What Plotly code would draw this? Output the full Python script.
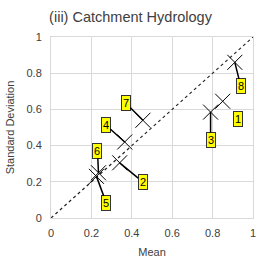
import plotly.graph_objects as go

labels = ["1", "2", "3", "4", "5", "6", "7", "8"]
mean = [0.85, 0.34, 0.79, 0.365, 0.225, 0.235, 0.455, 0.91]
std = [0.645, 0.305, 0.585, 0.42, 0.23, 0.25, 0.54, 0.86]
label_dx = [15, 23, 0, -19, 10, -1, -17, 6]
label_dy = [18, 19, 28, -17, 27, -22, -17, 24]
ticks = [0, 0.2, 0.4, 0.6, 0.8, 1]
tick_text = ["0", "0.2", "0.4", "0.6", "0.8", "1"]

fig = go.Figure()
fig.add_trace(go.Scatter(x=[0, 1], y=[0, 1], mode="lines",
                         line=dict(color="#222222", width=1.2, dash="3px,3px"),
                         hoverinfo="skip", showlegend=False))
fig.add_trace(go.Scatter(x=mean, y=std, mode="markers",
                         marker=dict(symbol="x-thin", size=15,
                                     line=dict(color="black", width=1)),
                         showlegend=False))
for lab, x, y, dx, dy in zip(labels, mean, std, label_dx, label_dy):
    fig.add_annotation(x=x, y=y, text=lab, showarrow=True, ax=dx, ay=dy,
                       arrowhead=0, arrowwidth=1.5, arrowcolor="black",
                       bgcolor="#ffff00", bordercolor="#333333", borderwidth=1,
                       borderpad=1, font=dict(size=11, color="black",
                                              family="Liberation Sans"))

axis_common = dict(range=[0, 1], tickvals=ticks, ticktext=tick_text,
                   showgrid=True, gridcolor="#d9d9d9", gridwidth=1,
                   zeroline=False, showline=True, linecolor="#d9d9d9",
                   mirror=True, ticks="", automargin=False,
                   tickfont=dict(size=11, color="#404040", family="Liberation Sans"))
fig.update_xaxes(**axis_common, ticklabelstandoff=5,
                 title=dict(text="Mean", standoff=10,
                 font=dict(size=11, color="#404040", family="Liberation Sans")))
fig.update_yaxes(**axis_common, ticklabelstandoff=6,
                 title=dict(text="Standard Deviation", standoff=9,
                 font=dict(size=11, color="#404040", family="Liberation Sans")))
fig.update_layout(
    width=261, height=263,
    margin=dict(l=51, r=8, t=37, b=45),
    paper_bgcolor="white", plot_bgcolor="white",
    title=dict(text="(iii) Catchment Hydrology", x=0.5, xanchor="center",
               y=1 - 17 / 263, yanchor="middle",
               font=dict(size=14.5, color="#404040", family="Liberation Sans")),
)
fig.write_html("out.html", config={"displayModeBar": False},
               post_script="document.body.style.margin='0';")
